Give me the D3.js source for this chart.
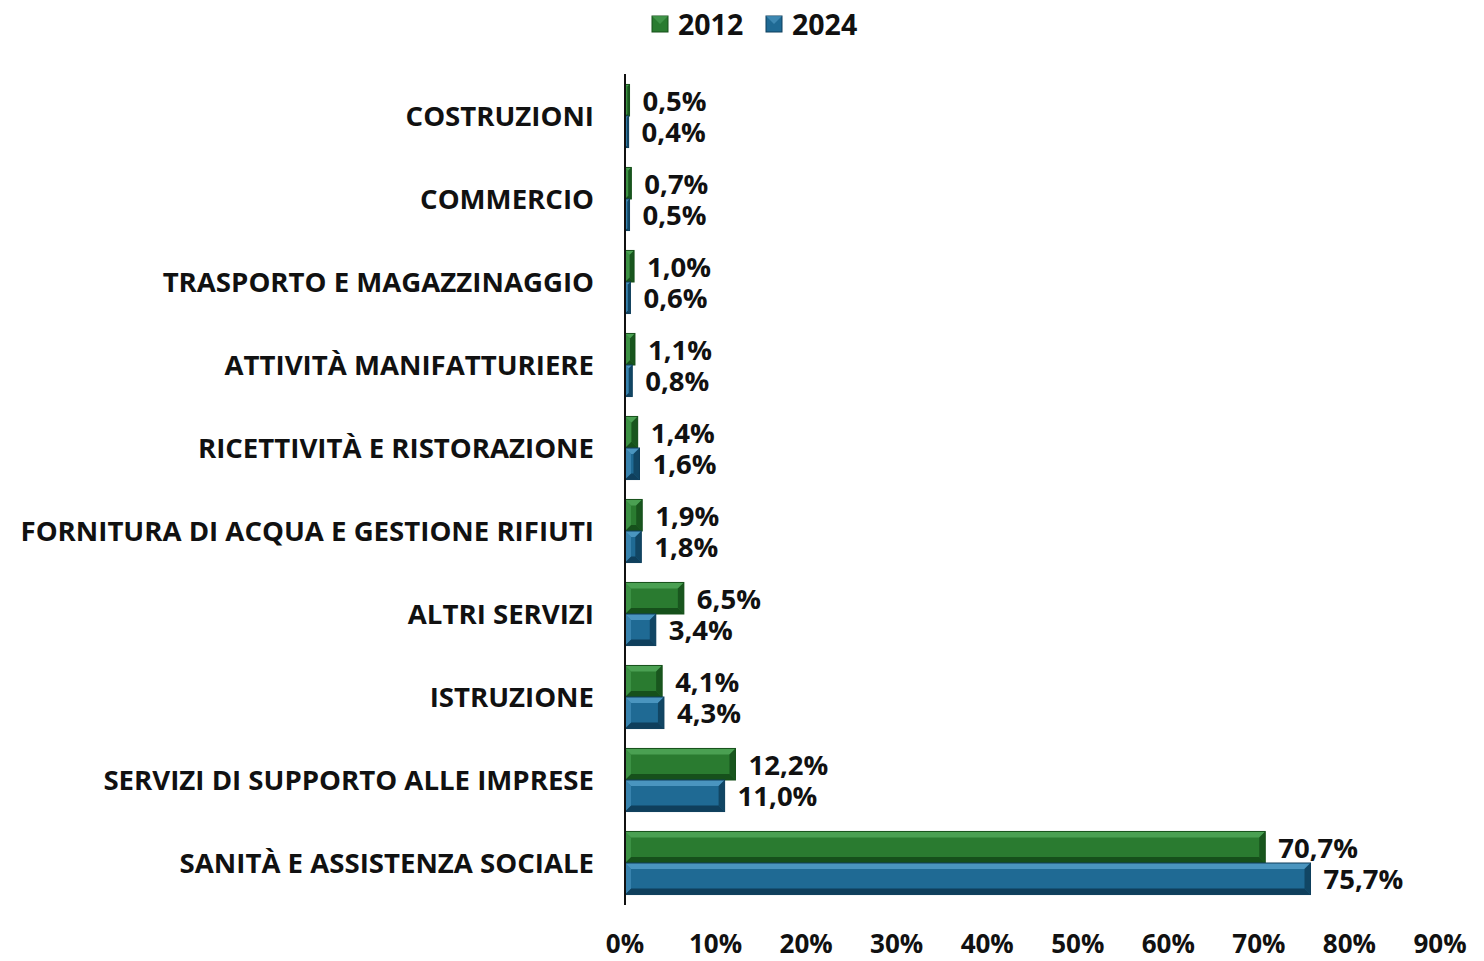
<!DOCTYPE html>
<html><head><meta charset="utf-8">
<script src="https://cdn.jsdelivr.net/npm/d3@7"></script>
<style>body{margin:0;background:#fff;} svg{display:block;}</style>
</head><body>
<svg id="c" width="1484" height="961"></svg>
<script>
const categories = ["COSTRUZIONI","COMMERCIO","TRASPORTO E MAGAZZINAGGIO","ATTIVITÀ MANIFATTURIERE","RICETTIVITÀ E RISTORAZIONE","FORNITURA DI ACQUA E GESTIONE RIFIUTI","ALTRI SERVIZI","ISTRUZIONE","SERVIZI DI SUPPORTO ALLE IMPRESE","SANITÀ E ASSISTENZA SOCIALE"];
const series = ["2012","2024"];
const values2012 = [0.5,0.7,1.0,1.1,1.4,1.9,6.5,4.1,12.2,70.7];
const values2024 = [0.4,0.5,0.6,0.8,1.6,1.8,3.4,4.3,11.0,75.7];
const ticks = [0,10,20,30,40,50,60,70,80,90];
const colors = {"2012":{base:"#2a7b30",light:"#4aa052",dark:"#16501b"},"2024":{base:"#1f6a94",light:"#4a95bf",dark:"#0f3f5c"}};

const svg = d3.select("#c");
const font = "'Open Sans', sans-serif";
const x = d3.scaleLinear().domain([0,90]).range([625,1440]);
const y = d3.scaleBand().domain(categories).range([74.5,904.5]).paddingInner(0.24).paddingOuter(0.12);
const yIn = d3.scaleBand().domain(series).range([0,y.bandwidth()]);

const data = [];
categories.forEach((c,i)=>{
  data.push({cat:c,s:"2012",v:values2012[i]});
  data.push({cat:c,s:"2024",v:values2024[i]});
});

svg.append("g").selectAll("text").data(categories).join("text")
  .attr("x",594).attr("y",d=>y(d)+y.bandwidth()/2 - 1)
  .attr("text-anchor","end").attr("dominant-baseline","central")
  .attr("font-family",font).attr("font-weight",700).attr("font-size",27.6).attr("fill","#111")
  .text(d=>d);

const bars = svg.append("g").selectAll("g").data(data).join("g");
bars.each(function(d){
  const g = d3.select(this);
  const x0 = x(0), x1 = x(d.v);
  const y0 = y(d.cat)+yIn(d.s), h = yIn.bandwidth();
  const y1 = y0+h;
  const w = x1-x0;
  const b = Math.min(6, w/2, h/3);
  const col = colors[d.s];
  g.append("rect").attr("x",x0).attr("y",y0).attr("width",w).attr("height",h).attr("fill",col.base);
  g.append("polygon").attr("points",[[x0,y0],[x1,y0],[x1-b,y0+b],[x0+b,y0+b]].join(" ")).attr("fill",col.light);
  g.append("polygon").attr("points",[[x0,y1],[x1,y1],[x1-b,y1-b],[x0+b,y1-b]].join(" ")).attr("fill",col.dark);
  g.append("polygon").attr("points",[[x1,y0],[x1,y1],[x1-b,y1-b],[x1-b,y0+b]].join(" ")).attr("fill",col.dark).attr("opacity",0.85);
  g.append("polygon").attr("points",[[x0,y0],[x0,y1],[x0+b,y1-b],[x0+b,y0+b]].join(" ")).attr("fill",col.light).attr("opacity",0.6);
  g.append("rect").attr("x",x0).attr("y",y0).attr("width",w).attr("height",h).attr("fill","none").attr("stroke",col.dark).attr("stroke-width",1);
});

svg.append("g").selectAll("text").data(data).join("text")
  .attr("x",d=>x(d.v)+13).attr("y",d=>y(d.cat)+yIn(d.s)+yIn.bandwidth()/2)
  .attr("dominant-baseline","central")
  .attr("font-family",font).attr("font-weight",700).attr("font-size",27.5).attr("fill","#111")
  .text(d=>d.v.toFixed(1).replace(".",",")+"%");

svg.append("line").attr("x1",x(0)).attr("x2",x(0)).attr("y1",74).attr("y2",905).attr("stroke","#111").attr("stroke-width",2);

svg.append("g").selectAll("text").data(ticks).join("text")
  .attr("x",d=>x(d)).attr("y",943).attr("text-anchor","middle").attr("dominant-baseline","central")
  .attr("font-family",font).attr("font-weight",700).attr("font-size",26).attr("fill","#111")
  .text(d=>d+"%");

const leg = svg.append("g");
const legX = {"2012":652,"2024":766};
series.forEach(s=>{
  const col = colors[s];
  const lx = legX[s], ly = 16, ls = 16;
  leg.append("rect").attr("x",lx).attr("y",ly).attr("width",ls).attr("height",ls).attr("fill",col.base).attr("stroke",col.dark);
  leg.append("polygon").attr("points",[[lx,ly],[lx+ls,ly],[lx+ls/2,ly+ls/2]].join(" ")).attr("fill",col.light).attr("opacity",0.7);
  leg.append("text").attr("x",lx+ls+10).attr("y",ly+ls/2).attr("dominant-baseline","central")
    .attr("font-family",font).attr("font-weight",700).attr("font-size",28.5).attr("fill","#111").text(s);
});
</script>
</body></html>
